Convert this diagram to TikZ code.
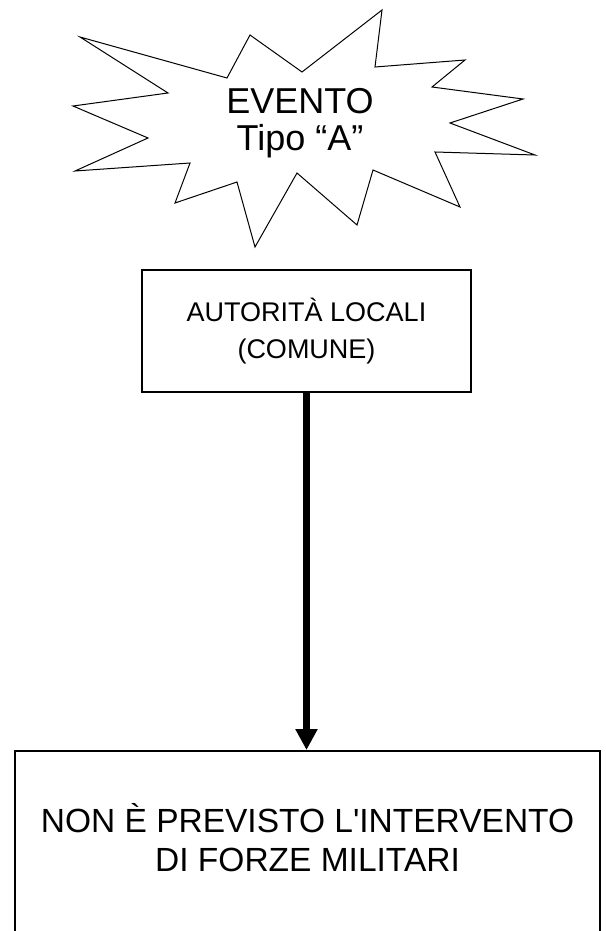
\documentclass[tikz,border=0pt]{standalone}
\usepackage{fontspec}
\setmainfont{Liberation Sans}
\usetikzlibrary{arrows.meta,positioning}

\begin{document}
\begin{tikzpicture}[x=1pt, y=-1pt,
        box/.style={draw, line width=2pt, align=center, inner sep=0pt},
        burst/.style={draw, line width=1pt, line join=miter}]
        \useasboundingbox (0,0) rectangle (605,931);
        \clip (0,0) rectangle (605,931);

        % stella dell'evento
        \draw[burst] (80,37) -- (168,93) -- (73,106) -- (148,138) -- (75,171)
            -- (190,163) -- (175,203) -- (237,182) -- (255,247) -- (297,173)
            -- (357,225) -- (373,170) -- (460,207) -- (435,152) -- (535,155)
            -- (450,123) -- (523,99) -- (432,87) -- (465,60) -- (375,67)
            -- (382,10) -- (302,72) -- (250,35) -- (227,78) -- cycle;
        \node[align=center, font=\fontsize{36}{37.5}\selectfont] (evento) at (300,123) {EVENTO\\Tipo “A”};

        \node[box, minimum width=329pt, minimum height=122pt, font=\fontsize{27}{37.5}\selectfont] (autorita) at (306.5,331) {AUTORITÀ LOCALI\\(COMUNE)};
        \node[box, minimum width=585pt, minimum height=184pt, anchor=north, font=\fontsize{33.5}{39}\selectfont] (forze) at (307.5,750)
            {\raisebox{5pt}{\begin{tabular}{@{}c@{}}NON È PREVISTO L\textquotesingle INTERVENTO\\DI FORZE MILITARI\end{tabular}}};

        \draw[-{Triangle[width=21pt,length=21pt]}, line width=7pt] (autorita.south) -- (autorita.south |- forze.north);
\end{tikzpicture}
\end{document}
